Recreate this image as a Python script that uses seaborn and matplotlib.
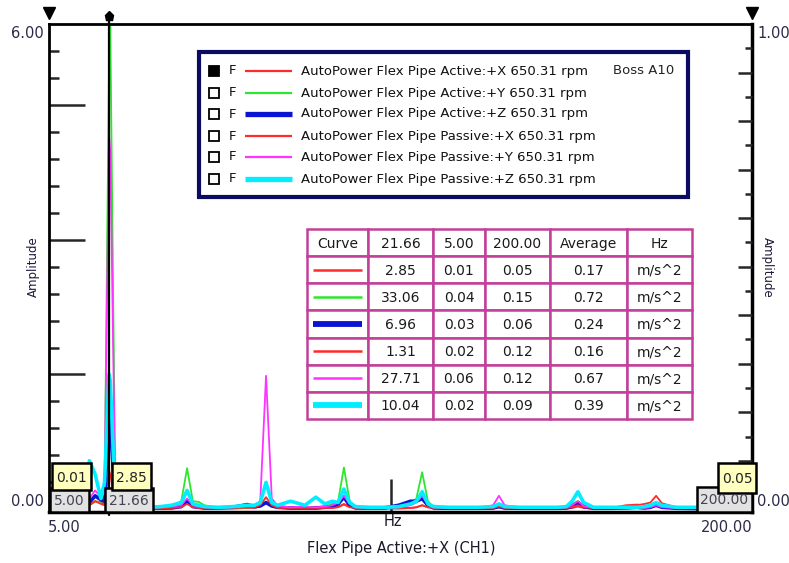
import pandas as pd
import seaborn as sns
import matplotlib.pyplot as plt
from matplotlib.patches import Rectangle
from matplotlib.lines import Line2D
from matplotlib.ticker import FixedLocator

# spectral lines (Hz)
freq = [5.0, 8.2, 11.4, 14.6, 16.2, 17.8, 19.4, 20.4, 21.66, 22.0, 23.4, 25.0,
        28.0, 32.0, 36.0, 39.0, 41.7, 43.3, 44.9, 46.5, 48.1, 52.0, 56.0, 60.0,
        62.0, 63.6, 65.2, 66.8, 68.4, 72.0, 76.0, 79.0, 81.5, 83.6, 85.2, 86.8,
        88.4, 90.0, 94.0, 98.0, 102.0, 105.3, 106.9, 108.5, 110.1, 111.7, 116.0, 120.0,
        124.0, 128.2, 129.8, 131.4, 136.0, 141.0, 146.0, 148.5, 150.1, 151.7, 153.3, 156.0,
        161.0, 165.0, 168.0, 170.2, 171.8, 173.4, 175.0, 179.0, 184.0, 189.0, 194.0, 200.0]

active_x = [0.01, 0.05, 0.1, 0.15, 0.3, 0.6, 0.5, 0.4, 2.85, 2.6, 0.3, 0.1,
            0.05, 0.08, 0.05, 0.1, 0.2, 0.5, 0.2, 0.1, 0.05, 0.08, 0.05, 0.1,
            0.1, 0.2, 0.5, 0.2, 0.1, 0.05, 0.08, 0.05, 0.1, 0.1, 0.2, 0.4,
            0.2, 0.1, 0.05, 0.05, 0.05, 0.1, 0.15, 0.3, 0.15, 0.1, 0.05, 0.05,
            0.05, 0.05, 0.15, 0.05, 0.05, 0.05, 0.05, 0.05, 0.1, 0.2, 0.1, 0.05,
            0.1, 0.3, 0.35, 0.3, 0.2, 0.4, 0.2, 0.05, 0.05, 0.05, 0.05, 0.05]
active_y = [0.04, 0.1, 0.15, 0.2, 0.3, 0.6, 0.5, 1.0, 33.06, 35.8, 0.8, 0.2,
            0.15, 0.1, 0.2, 0.25, 0.6, 3.05, 0.6, 0.55, 0.3, 0.1, 0.1, 0.15,
            0.2, 0.3, 0.5, 0.3, 0.15, 0.1, 0.2, 0.15, 0.2, 0.4, 0.6, 3.1,
            0.6, 0.2, 0.15, 0.1, 0.15, 0.4, 0.8, 2.75, 0.6, 0.15, 0.1, 0.1,
            0.1, 0.15, 0.2, 0.1, 0.1, 0.1, 0.1, 0.15, 0.4, 0.6, 0.3, 0.1,
            0.1, 0.1, 0.15, 0.1, 0.15, 0.3, 0.15, 0.1, 0.1, 0.1, 0.1, 0.15]
active_z = [0.03, 0.08, 0.1, 0.2, 0.5, 1.0, 0.7, 0.6, 6.96, 6.4, 0.5, 0.15,
            0.1, 0.1, 0.1, 0.1, 0.2, 0.6, 0.2, 0.15, 0.1, 0.1, 0.15, 0.35,
            0.2, 0.25, 0.5, 0.25, 0.15, 0.1, 0.1, 0.1, 0.15, 0.2, 0.4, 0.9,
            0.3, 0.1, 0.1, 0.1, 0.3, 0.6, 0.6, 0.8, 0.3, 0.1, 0.08, 0.08,
            0.08, 0.1, 0.2, 0.1, 0.08, 0.08, 0.08, 0.1, 0.2, 0.5, 0.2, 0.08,
            0.08, 0.1, 0.15, 0.1, 0.15, 0.3, 0.15, 0.08, 0.06, 0.06, 0.06, 0.06]
passive_x = [0.02, 0.05, 0.1, 0.15, 0.3, 0.6, 0.4, 0.3, 1.31, 1.2, 0.2, 0.1,
             0.1, 0.1, 0.08, 0.1, 0.15, 0.4, 0.15, 0.1, 0.1, 0.1, 0.1, 0.15,
             0.15, 0.3, 0.9, 0.3, 0.1, 0.1, 0.1, 0.1, 0.1, 0.1, 0.15, 0.35,
             0.15, 0.1, 0.1, 0.1, 0.1, 0.1, 0.15, 0.3, 0.15, 0.1, 0.1, 0.1,
             0.1, 0.1, 0.2, 0.1, 0.1, 0.1, 0.1, 0.1, 0.15, 0.3, 0.15, 0.1,
             0.1, 0.15, 0.3, 0.4, 0.5, 1.0, 0.45, 0.15, 0.12, 0.12, 0.12, 0.12]
passive_y = [0.06, 0.1, 0.15, 0.3, 0.8, 1.4, 0.9, 1.2, 27.71, 26.5, 1.0, 0.2,
             0.15, 0.1, 0.15, 0.2, 0.3, 0.8, 0.3, 0.2, 0.15, 0.1, 0.15, 0.25,
             0.3, 0.6, 9.9, 0.8, 0.25, 0.15, 0.2, 0.15, 0.2, 0.3, 0.5, 1.0,
             0.4, 0.15, 0.1, 0.1, 0.15, 0.3, 0.5, 1.0, 0.4, 0.15, 0.1, 0.1,
             0.1, 0.3, 1.0, 0.3, 0.1, 0.1, 0.1, 0.15, 0.3, 0.6, 0.25, 0.1,
             0.1, 0.1, 0.15, 0.1, 0.15, 0.3, 0.15, 0.1, 0.1, 0.1, 0.1, 0.12]
passive_z = [0.02, 0.1, 0.2, 0.6, 3.6, 2.6, 0.8, 2.0, 10.04, 9.5, 0.6, 0.2,
             0.2, 0.15, 0.2, 0.3, 0.5, 1.4, 0.4, 0.3, 0.2, 0.15, 0.2, 0.3,
             0.3, 0.5, 2.0, 0.5, 0.3, 0.6, 0.3, 0.9, 0.4, 0.6, 0.5, 1.5,
             0.5, 0.2, 0.15, 0.15, 0.2, 0.4, 0.6, 1.3, 0.4, 0.2, 0.15, 0.15,
             0.15, 0.2, 0.4, 0.2, 0.15, 0.15, 0.15, 0.2, 0.6, 1.3, 0.5, 0.15,
             0.15, 0.15, 0.15, 0.2, 0.3, 0.5, 0.3, 0.15, 0.15, 0.15, 0.12, 0.09]

curves = ["AutoPower Flex Pipe Active:+X 650.31 rpm",
          "AutoPower Flex Pipe Active:+Y 650.31 rpm",
          "AutoPower Flex Pipe Active:+Z 650.31 rpm",
          "AutoPower Flex Pipe Passive:+X 650.31 rpm",
          "AutoPower Flex Pipe Passive:+Y 650.31 rpm",
          "AutoPower Flex Pipe Passive:+Z 650.31 rpm"]
series = [active_x, active_y, active_z, passive_x, passive_y, passive_z]
colors = ["#ff2a2a", "#2ee62e", "#0a14d2", "#ff2a2a", "#ff33ff", "#00eeff"]
widths = [1.3, 1.3, 2.6, 1.3, 1.3, 2.6]

cursor_hz = 21.66
x_start, x_end = 5.0, 200.0
cursor_vals = ["2.85", "33.06", "6.96", "1.31", "27.71", "10.04"]
start_vals = ["0.01", "0.04", "0.03", "0.02", "0.06", "0.02"]
end_vals = ["0.05", "0.15", "0.06", "0.12", "0.12", "0.09"]
avg_vals = ["0.17", "0.72", "0.24", "0.16", "0.67", "0.39"]
unit = "m/s^2"

df = pd.concat([pd.DataFrame({"Hz": freq, "amp": s, "curve": c})
                for c, s in zip(curves, series)], ignore_index=True)

sns.set_style("white")
plt.rcParams["font.family"] = ["DejaVu Sans"]

W, H = 789, 563
fig = plt.figure(figsize=(W / 100, H / 100), dpi=100)
ax = fig.add_axes([49 / W, 1 - 512 / H, (752 - 49) / W, (512 - 24) / H])

sns.lineplot(data=df, x="Hz", y="amp", hue="curve", size="curve",
             hue_order=curves, size_order=curves,
             palette=dict(zip(curves, colors)), sizes=dict(zip(curves, widths)),
             estimator=None, sort=False, legend=False, ax=ax)

ax.set_xlim(x_start, x_end)
ax.set_ylim(-0.2, 36)
ax.set_xlabel("")
ax.set_ylabel("")
for side, lw in [("left", 2), ("bottom", 2.5), ("top", 2), ("right", 2.5)]:
    ax.spines[side].set_color("black")
    ax.spines[side].set_linewidth(lw)

ax.xaxis.set_major_locator(FixedLocator([50, 150]))
ax.xaxis.set_minor_locator(FixedLocator(list(range(10, 200, 10))))
ax.tick_params(axis="x", which="major", direction="in", length=13, width=1.8, labelbottom=False)
ax.tick_params(axis="x", which="minor", direction="in", length=5, width=1.8)
sec = ax.secondary_xaxis("bottom")
sec.xaxis.set_major_locator(FixedLocator([100]))
sec.tick_params(direction="in", length=24, width=1.8, labelbottom=False)
sec.spines["bottom"].set_visible(False)

ax.yaxis.set_major_locator(FixedLocator([10, 20, 30]))
ax.yaxis.set_minor_locator(FixedLocator(list(range(2, 36, 2))))
ax.tick_params(axis="y", which="major", direction="in", length=26, width=1.8, labelleft=False)
ax.tick_params(axis="y", which="minor", direction="in", length=7, width=1.8)

ax2 = ax.twinx()
ax2.set_ylim(-0.2 / 36, 1.0)
ax2.yaxis.set_major_locator(FixedLocator([i / 10 for i in range(1, 10)]))
ax2.yaxis.set_minor_locator(FixedLocator([i / 20 for i in range(1, 20, 2)]))
ax2.tick_params(axis="y", which="major", direction="in", length=10, width=1.8, labelright=False)
ax2.tick_params(axis="y", which="minor", direction="in", length=5, width=1.8)
for sp in ax2.spines.values():
    sp.set_visible(False)

# cursors
ax.axvline(cursor_hz, ymin=-0.006, ymax=1.016, color="black", lw=1.6, clip_on=False, zorder=4)
ax.plot([cursor_hz], [1.016], marker="p", ms=6.5, color="black",
        transform=ax.get_xaxis_transform(), clip_on=False)
ax.plot([x_start, x_end], [1.022, 1.022], ls="none", marker="v", ms=8, color="black",
        transform=ax.get_xaxis_transform(), clip_on=False)


def prect(x0, y0, x1, y1, **kw):
    fig.add_artist(Rectangle((x0 / W, 1 - y1 / H), (x1 - x0) / W, (y1 - y0) / H,
                             transform=fig.transFigure, **kw))


def ptext(x, y, s, **kw):
    fig.text(x / W, 1 - y / H, s, **kw)


def pline(x0, x1, y, **kw):
    fig.add_artist(Line2D([x0 / W, x1 / W], [1 - y / H, 1 - y / H],
                          transform=fig.transFigure, **kw))


lab = "#2b2b48"
ptext(44, 33, "6.00", ha="right", va="center", fontsize=10.5, color=lab)
ptext(44, 501, "0.00", ha="right", va="center", fontsize=10.5, color=lab)
ptext(757, 33, "1.00", ha="left", va="center", fontsize=10.5, color=lab)
ptext(757, 502, "0.00", ha="left", va="center", fontsize=10.5, color=lab)
ptext(48, 528, "5.00", ha="left", va="center", fontsize=10.5, color=lab)
ptext(752, 528, "200.00", ha="right", va="center", fontsize=10.5, color=lab)
ptext(393, 522, "Hz", ha="center", va="center", fontsize=10.5, color="#1a1a2a")
ptext(401, 549, "Flex Pipe Active:+X (CH1)", ha="center", va="center", fontsize=10.5, color="#1a1a2a")
ptext(33, 267, "Amplitude", rotation=90, ha="center", va="center", fontsize=8.5, color="#1a1a3a")
ptext(767, 267, "Amplitude", rotation=270, ha="center", va="center", fontsize=8.5, color="#1a1a3a")

# cursor readouts
grey, yellow = "#e2e2e2", "#ffffc0"
for (x0, y0, x1, y1), face, txt in [((50, 488, 89, 512), grey, "5.00"),
                                    ((105, 488, 153, 512), grey, "21.66"),
                                    ((697, 487, 752, 512), grey, "200.00"),
                                    ((52, 463, 91, 490), yellow, start_vals[0]),
                                    ((112, 463, 151, 490), yellow, cursor_vals[0]),
                                    ((718, 463, 756, 493), yellow, end_vals[0])]:
    prect(x0, y0, x1, y1, facecolor=face, edgecolor="black", lw=1.8)
    ptext((x0 + x1) / 2, (y0 + y1) / 2 + 1, txt, ha="center", va="center", fontsize=10,
          color="#444455" if face == grey else "#222222")

# legend block
prect(199, 52, 688, 197, facecolor="white", edgecolor="#0b0b63", lw=3)
rows_y = [71, 93, 114, 136, 157, 179]
for i, (name, col, lw, y) in enumerate(zip(curves, colors, widths, rows_y)):
    prect(209, y - 5, 219, y + 5, facecolor="black" if i == 0 else "white",
          edgecolor="black", lw=1.3)
    ptext(233, y, "F", ha="center", va="center", fontsize=9.5, color="#111111")
    pline(245, 292, y, color=col, lw=1.6 if lw < 2 else 3.8, solid_capstyle="butt")
    ptext(301, y, name, ha="left", va="center", fontsize=9.5, color="#111111")
ptext(613, rows_y[0], "Boss A10", ha="left", va="center", fontsize=9.5, color="#222222")

# cursor values table
col_x = [307, 368, 433, 485, 550, 627, 692]
row_top, row_h = 229, 27.14
header = ["Curve", "21.66", "5.00", "200.00", "Average", "Hz"]
cells = [header] + [["", c, s, e, a, unit]
                    for c, s, e, a in zip(cursor_vals, start_vals, end_vals, avg_vals)]
pink = "#c2409a"
for r, row in enumerate(cells):
    y0 = row_top + r * row_h
    for c, txt in enumerate(row):
        prect(col_x[c], y0, col_x[c + 1], y0 + row_h, facecolor="white", edgecolor=pink, lw=1.8)
        ptext((col_x[c] + col_x[c + 1]) / 2, y0 + row_h / 2 + 1, txt, ha="center",
              va="center", fontsize=10, color="#1a1a1a")
    if r > 0:
        pline(313, 362, y0 + row_h / 2, color=colors[r - 1],
              lw=1.8 if widths[r - 1] < 2 else 4.2, solid_capstyle="butt")

fig.savefig("out.png", dpi=100)
